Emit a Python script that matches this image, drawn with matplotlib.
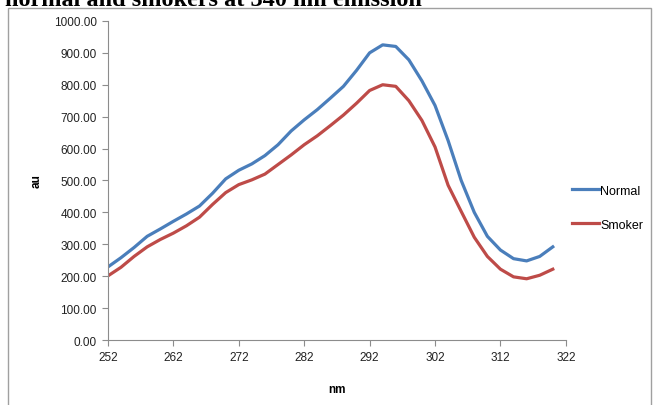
import matplotlib
matplotlib.use("Agg")
import matplotlib.pyplot as plt
from matplotlib.patches import Rectangle
from matplotlib.ticker import FormatStrFormatter

# wavelength (nm) and intensity (au)
nm = [252, 254, 256, 258, 260, 262, 264, 266, 268, 270, 272, 274, 276, 278,
      280, 282, 284, 286, 288, 290, 292, 294, 296, 298, 300, 302, 304, 306,
      308, 310, 312, 314, 316, 318, 320]
normal = [229, 258, 290, 325, 348, 372, 395, 420, 460, 505, 532, 552, 578, 612,
          655, 690, 722, 758, 795, 845, 900, 925, 920, 878, 812, 735, 625, 500,
          400, 325, 282, 255, 248, 262, 292]
smoker = [201, 228, 262, 292, 315, 335, 358, 385, 425, 462, 487, 502, 520, 550,
          580, 612, 640, 672, 705, 742, 782, 800, 795, 750, 688, 605, 485, 403,
          322, 262, 222, 198, 192, 203, 222]
x_ticks = [252, 262, 272, 282, 292, 302, 312, 322]
y_ticks = [0, 100, 200, 300, 400, 500, 600, 700, 800, 900, 1000]

plt.rcParams["font.family"] = ["Liberation Sans", "DejaVu Sans"]

fig = plt.figure(figsize=(6.58, 4.06), dpi=100)
ax = fig.add_axes([0.164, 0.160, 0.696, 0.786])

# chart frame, with the caption line clipped by the top edge as in the source
fig.patches.append(Rectangle((0.012, -0.01), 0.978, 0.988, transform=fig.transFigure,
                             fill=False, edgecolor="#a0a0a0", lw=1.0))
fig.text(0.008, 0.986, "normal and smokers at 340 nm emission", ha="left",
         va="baseline", fontsize=17.5, fontweight="bold", family="Liberation Serif")

ax.plot(nm, normal, color="#4A7EBB", lw=2.3, label="Normal")
ax.plot(nm, smoker, color="#BE4B48", lw=2.3, label="Smoker")

ax.set_xlim(252, 322)
ax.set_ylim(0, 1000)
ax.set_xticks(x_ticks)
ax.set_yticks(y_ticks)
ax.yaxis.set_major_formatter(FormatStrFormatter("%.2f"))
for s in ("top", "right"):
    ax.spines[s].set_visible(False)
for s in ("left", "bottom"):
    ax.spines[s].set_color("#8c8c8c")
ax.tick_params(length=4, color="#8c8c8c", labelsize=8.5, pad=4, labelcolor="#222222")
ax.set_xlabel("nm", fontsize=8.5, fontweight="bold", labelpad=14)
ax.set_ylabel("au", fontsize=8.5, fontweight="bold", labelpad=8)

fig.legend(loc="center left", bbox_to_anchor=(0.852, 0.486), frameon=False,
           fontsize=9, handlelength=2.2, handletextpad=0.05, labelspacing=1.75)

fig.savefig("out.png", dpi=100)
